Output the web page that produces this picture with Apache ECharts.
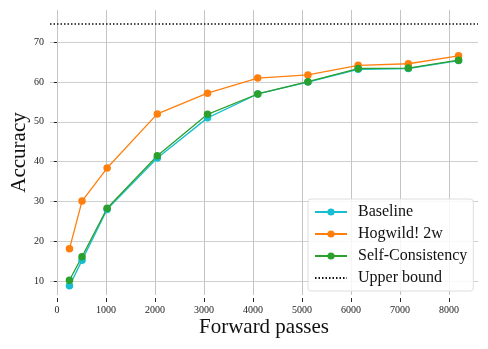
<!DOCTYPE html>
<html>
<head>
<meta charset="utf-8">
<script src="https://cdn.jsdelivr.net/npm/echarts@6/dist/echarts.min.js"></script>
<style>
  html, body { margin: 0; padding: 0; background: #fff; }
  #chart { width: 488px; height: 349px; }
</style>
</head>
<body>
<div id="chart"></div>
<script>
const passes = [256, 512, 1024, 2048, 3072, 4096, 5120, 6144, 7168, 8192]
const baseline = [8.8, 15.2, 28.0, 40.9, 51.0, 57.0, 60.0, 63.2, 63.4, 65.4]
const hogwild = [18.1, 30.1, 38.4, 52.0, 57.2, 61.0, 61.8, 64.2, 64.6, 66.6]
const selfConsistency = [10.2, 16.1, 28.3, 41.5, 51.9, 57.0, 60.1, 63.4, 63.5, 65.5]
const upperBound = 74.7
const xTicks = [0, 1000, 2000, 3000, 4000, 5000, 6000, 7000, 8000]
const yTicks = [10, 20, 30, 40, 50, 60, 70]

const serif = 'Liberation Serif'

const pairs = (ys) => passes.map((x, i) => [x, ys[i]])

const lineSeries = (name, color, ys) => ({
  name: name,
  type: 'line',
  data: pairs(ys),
  symbol: 'circle',
  symbolSize: 7.5,
  itemStyle: { color: color },
  lineStyle: { color: color, width: 1.3 },
  emphasis: { disabled: true },
  animation: false
})

const chart = echarts.init(document.getElementById('chart'), null, { renderer: 'canvas' })

chart.setOption({
  backgroundColor: '#fff',
  animation: false,
  grid: { left: 50, right: 10, top: 10, bottom: 54, containLabel: false, outerBoundsMode: 'none' },
  xAxis: {
    type: 'value',
    min: -141,
    max: 8589,
    offset: 3,
    name: 'Forward passes',
    nameLocation: 'middle',
    nameGap: 19,
    nameMoveOverlap: false,
    nameTextStyle: { fontFamily: serif, fontSize: 21, color: '#111' },
    axisLine: { show: false },
    axisTick: { show: true, length: 4, customValues: xTicks, lineStyle: { color: '#222' } },
    axisLabel: {
      customValues: xTicks,
      formatter: (v) => String(v),
      fontFamily: serif, fontSize: 10, color: '#222', margin: 7
    },
    splitLine: { show: true, lineStyle: { color: '#c4c4c4', width: 1 } }
  },
  yAxis: {
    type: 'value',
    min: 6.5,
    max: 78.1,
    offset: 1,
    name: 'Accuracy',
    nameLocation: 'middle',
    nameGap: 19,
    nameMoveOverlap: false,
    nameTextStyle: { fontFamily: serif, fontSize: 21, color: '#111' },
    axisLine: { show: false },
    axisTick: { show: true, length: 3, customValues: yTicks, lineStyle: { color: '#222' } },
    axisLabel: { customValues: yTicks, fontFamily: serif, fontSize: 10, color: '#222', margin: 5 },
    splitLine: { show: true, lineStyle: { color: '#cfcfcf', width: 1.2 } }
  },
  legend: {
    orient: 'vertical',
    left: 308,
    top: 199,
    padding: [5, 6, 5, 6],
    itemGap: 6,
    itemWidth: 32,
    itemHeight: 9,
    backgroundColor: 'rgba(255,255,255,0.85)',
    borderColor: '#dedede',
    borderWidth: 1,
    borderRadius: 3,
    textStyle: { fontFamily: serif, fontSize: 16, color: '#111', padding: [0, 0, 0, 6] },
    data: [
      'Baseline',
      'Hogwild! 2w',
      'Self-Consistency',
      { name: 'Upper bound', itemStyle: { color: 'rgba(0,0,0,0)', borderWidth: 0 } }
    ]
  },
  series: [
    lineSeries('Baseline', '#17becf', baseline),
    lineSeries('Hogwild! 2w', '#ff7f0e', hogwild),
    lineSeries('Self-Consistency', '#2ca02c', selfConsistency),
    {
      name: 'Upper bound',
      type: 'line',
      data: [],
      symbol: 'none',
      itemStyle: { color: '#111' },
      lineStyle: { color: '#111', width: 1.5, type: [1.5, 2] },
      markLine: {
        silent: true,
        symbol: 'none',
        label: { show: false },
        lineStyle: { color: '#111', width: 1.5, type: [1.5, 2] },
        data: [{ yAxis: upperBound }]
      }
    }
  ]
})
</script>
</body>
</html>
